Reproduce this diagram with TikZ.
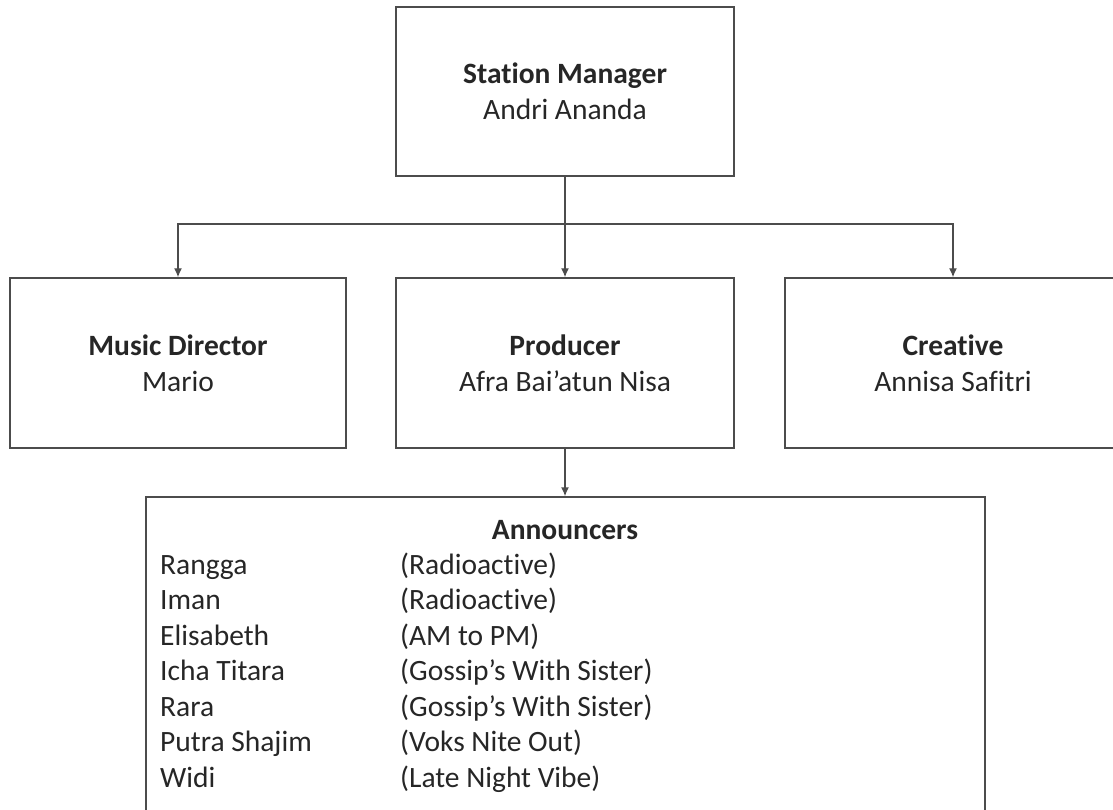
\documentclass[tikz,border=0pt]{standalone}
\usepackage{fontspec}
\setmainfont{Carlito}[Ligatures={NoCommon}]
\usetikzlibrary{arrows.meta}
\tikzset{
  unitbox/.style={draw=black!70, line width=1.4pt, align=center, text=black!85,
    font=\fontsize{29.5}{36}\selectfont, inner sep=0pt},
  link/.style={draw=black!70, line width=1.4pt, -{Latex[length=9pt,width=8pt]}}
}
\begin{document}
\begin{tikzpicture}[x=1pt,y=-1pt]
      \useasboundingbox (0,0) rectangle (1113,810);
      \node[unitbox, minimum width=338pt, minimum height=169pt] (sm) at (565,91.5)
        {\textbf{Station Manager}\\Andri Ananda};
      \node[unitbox, minimum width=336pt, minimum height=170pt] (md) at (178,363)
        {\textbf{Music Director}\\Mario};
      \node[unitbox, minimum width=338pt, minimum height=170pt] (prod) at (565,363)
        {\textbf{Producer}\\Afra Bai'atun Nisa};
      \node[unitbox, minimum width=336pt, minimum height=170pt] (cr) at (953,363)
        {\textbf{Creative}\\Annisa Safitri};
      \node[unitbox, minimum width=839pt, minimum height=340pt] (ann) at (565.5,667) {};
      \node[text=black!85, font=\fontsize{29.5}{36}\selectfont\bfseries, inner sep=0pt] (annhead) at (565,530) {Announcers};
      \node[text=black!85, font=\fontsize{29.5}{35.5}\selectfont, inner sep=0pt, anchor=north west] (annlist) at (160,549)
        {\begin{tabular}{@{}p{240pt}@{}l@{}}
          Rangga & (Radioactive)\\
          Iman & (Radioactive)\\
          Elisabeth & (AM to PM)\\
          Icha Titara & (Gossip's With Sister)\\
          Rara & (Gossip's With Sister)\\
          Putra Shajim & (Voks Nite Out)\\
          Widi & (Late Night Vibe)
        \end{tabular}};
      \coordinate (bus) at (565,224);
      \begin{scope}[link]
        \draw (sm.south) to (prod.north);
        \draw (bus) -| (md.north);
        \draw (bus) -| (cr.north);
        \draw (prod.south) to (ann.north -| prod.south);
      \end{scope}
    \end{tikzpicture}
\end{document}
